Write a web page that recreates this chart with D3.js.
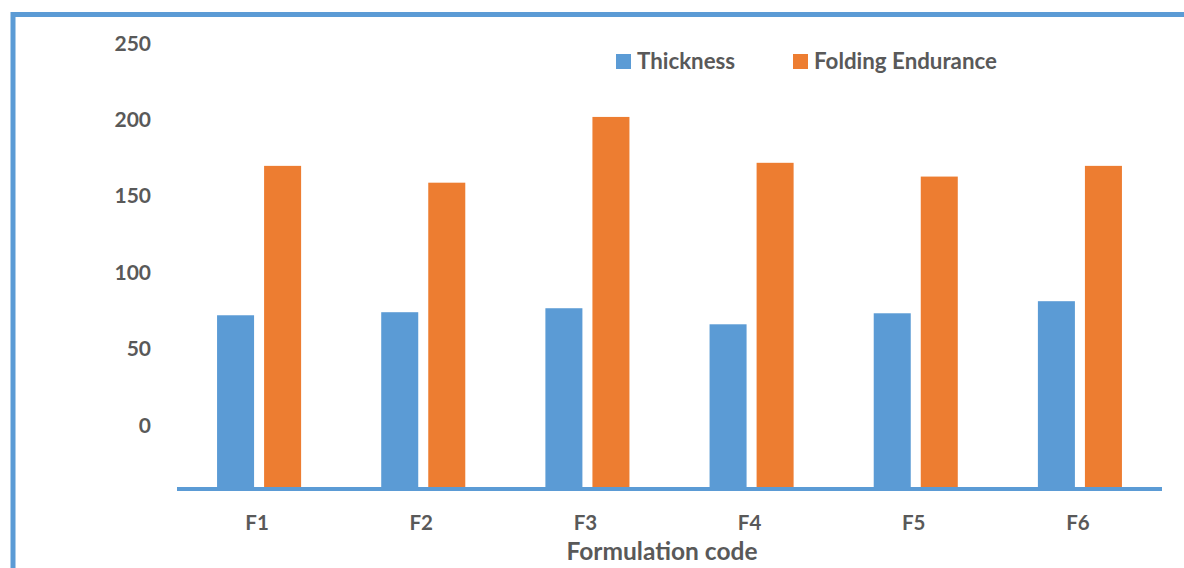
<!DOCTYPE html>
<html>
<head>
<meta charset="utf-8">
<script src="https://cdn.jsdelivr.net/npm/d3@7"></script>
<style>
  html, body { margin: 0; padding: 0; background: #fff; }
  svg { display: block; }
  text { font-family: Lato, "Open Sans", sans-serif; font-weight: bold; fill: #595959; }
</style>
</head>
<body>
<svg id="chart" width="1184" height="568"></svg>
<script>
// Formulation codes and measured properties
const categories = ["F1", "F2", "F3", "F4", "F5", "F6"];
const thickness = [71.3, 73.3, 75.9, 65.4, 72.6, 80.5];
const foldingEndurance = [169, 158, 201, 171, 162, 169];
const seriesNames = ["Thickness", "Folding Endurance"];
const yTicks = [0, 50, 100, 150, 200, 250];
const xTitle = "Formulation code";

const colors = ["#5b9bd5", "#ed7d31"];
const svg = d3.select("#chart");

// Outer frame (top and left edges visible)
svg.append("line").attr("x1", 11).attr("x2", 1184).attr("y1", 14.5).attr("y2", 14.5)
  .attr("stroke", "#5b9bd5").attr("stroke-width", 5);
svg.append("line").attr("x1", 13).attr("x2", 13).attr("y1", 12).attr("y2", 568)
  .attr("stroke", "#5b9bd5").attr("stroke-width", 5);

// Plot area: the value axis floor sits below zero
const plot = { left: 177, right: 1162, top: 42, bottom: 487 };
const y = d3.scaleLinear().domain([-41, 250]).range([plot.bottom, plot.top]);
const x0 = d3.scaleBand().domain(categories).range([plot.left, plot.right]).paddingInner(0.488).paddingOuter(0.244);
const x1 = d3.scaleBand().domain(seriesNames).range([0, x0.bandwidth()]).paddingInner(0.213);

const rows = categories.map((c, i) => ({ cat: c, vals: [thickness[i], foldingEndurance[i]] }));

const groups = svg.append("g").selectAll("g").data(rows).join("g")
  .attr("transform", d => `translate(${x0(d.cat)},0)`);
groups.selectAll("rect").data(d => d.vals.map((v, k) => ({ key: seriesNames[k], v, k })))
  .join("rect")
  .attr("x", d => x1(d.key))
  .attr("width", x1.bandwidth())
  .attr("y", d => y(d.v))
  .attr("height", d => y.range()[0] - y(d.v))
  .attr("fill", d => colors[d.k]);

// Category axis line
svg.append("line").attr("x1", plot.left).attr("x2", plot.right)
  .attr("y1", plot.bottom + 2).attr("y2", plot.bottom + 2)
  .attr("stroke", "#5b9bd5").attr("stroke-width", 4);

// Value labels
svg.append("g").selectAll("text").data(yTicks).join("text")
  .attr("x", 151).attr("y", d => y(d))
  .attr("text-anchor", "end").attr("dominant-baseline", "central")
  .attr("font-size", 21).text(d => d);

// Category labels
svg.append("g").selectAll("text").data(categories).join("text")
  .attr("x", d => x0(d) + x0.bandwidth() / 2 - 2).attr("y", 530)
  .attr("text-anchor", "middle").attr("font-size", 20.5).text(d => d);

// Axis title
svg.append("text").attr("x", 662).attr("y", 560).attr("text-anchor", "middle")
  .attr("font-size", 24.5).text(xTitle);

// Legend
const legendX = [616, 793];
const legend = svg.append("g").selectAll("g").data(seriesNames).join("g")
  .attr("transform", (d, i) => `translate(${legendX[i]},54)`);
legend.append("rect").attr("width", 15).attr("height", 15).attr("fill", (d, i) => colors[i]);
legend.append("text").attr("x", 21).attr("y", 14.5).attr("font-size", 22.3).text(d => d);
</script>
</body>
</html>
